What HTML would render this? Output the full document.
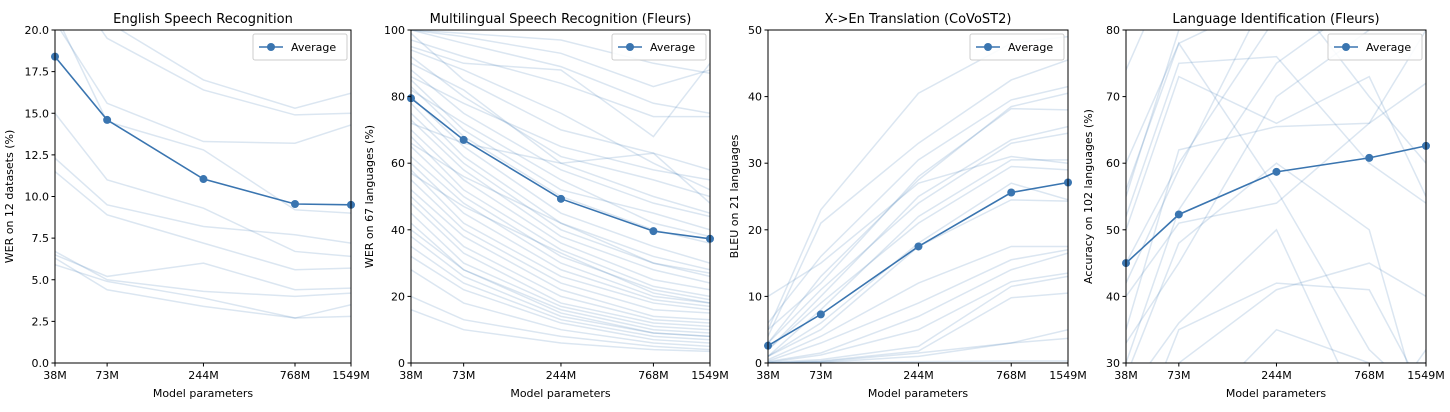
<!DOCTYPE html>
<html><head><meta charset="utf-8">
<style>
html,body{margin:0;padding:0;background:#fff;width:1450px;height:412px;overflow:hidden;}
svg{display:block;font-family:"DejaVu Sans","Liberation Sans",sans-serif;}
</style></head>
<body>
<svg id="chart" width="1450" height="412" viewBox="0 0 1450 412" xmlns="http://www.w3.org/2000/svg"></svg>
<script>
const xCategories = [38, 73, 244, 768, 1549];
const xTickLabels = ["38M","73M","244M","768M","1549M"];
const titles = ["English Speech Recognition","Multilingual Speech Recognition (Fleurs)","X->En Translation (CoVoST2)","Language Identification (Fleurs)"];
const yLabels = ["WER on 12 datasets (%)","WER on 67 languages (%)","BLEU on 21 languages","Accuracy on 102 languages (%)"];
const yTicks1 = [0,2.5,5,7.5,10,12.5,15,17.5,20];
const yTicks2 = [0,20,40,60,80,100];
const yTicks3 = [0,10,20,30,40,50];
const yTicks4 = [30,40,50,60,70,80];
const avg1 = [18.4,14.6,11.05,9.55,9.5];
const avg2 = [79.5,67,49.3,39.6,37.3];
const avg3 = [2.6,7.3,17.5,25.6,27.1];
const avg4 = [45,52.3,58.7,60.8,62.6];
const lines1 = [
[22,20.5,17,15.3,16.2],[24,19.5,16.4,14.9,15.0],[20.5,15.6,13.3,13.2,14.3],
[15,11,9.3,6.7,6.4],[12.3,9.5,8.2,7.7,7.2],[11.5,8.9,7.2,5.6,5.7],
[21,14.5,12.8,9.2,9.0],[6.7,5,4.3,4,4.2],[6.3,4.4,3.4,2.7,3.5],[5.9,4.9,3.9,2.7,2.8],
[6.5,5.2,6.0,4.4,4.5]];
const lines2 = [
[100,98,93,83,88],[100,96,89,78,75],[97,92,84,74,74],[100,99,97,90,87],[95,90,88,68,90],
[99,85,70,63,58],[92,80,62,55,50],[88,75,58,48,44],[85,70,52,45,40],[83,68,50,40,36],
[80,65,45,35,30],[78,62,42,32,28],[75,60,40,30,26],[73,58,38,28,24],[70,55,36,25,22],
[68,52,34,23,20],[65,50,32,22,19],[62,48,30,20,18],[60,45,28,19,17],[58,42,26,18,16],
[55,40,24,16,15],[52,38,22,14,13],[50,35,20,13,12],[48,33,18,12,11],[45,30,17,11,10],
[42,28,16,10,9],[40,28,15,9,8],[38,26,14,9,8],[35,24,13,8,7],[32,22,12,7,6],
[28,18,10,6,5],[20,13,8,5,4],[16,10,6,4,3.5],[90,82,60,50,45],[86,78,65,58,55],
[94,88,75,60,52],[72,66,60,63,48],[82,72,55,42,38],[66,56,42,30,27],[57,47,33,21,18]];
const lines3 = [
[5,23,40.5,48,49],[4,21,33,42.5,45.5],[6,16,30.5,39.5,41.5],[3,13,27.5,38.5,40.5],
[5,12,28,38.2,38],[2,10,25,33.5,35.5],[3,11,24,33,34.5],[1,8,22,30.5,30.5],
[2,9,21,29.5,29],[1,6,18,27,24.5],[1,5,17.5,24.5,24.3],[0.5,4,12,17.5,17.5],
[0.3,3,9,15.5,17],[0.2,1.5,7,14,16.5],[0.1,1.2,5,12.2,13.5],[0.1,0.5,2.5,11.5,13],
[0,0.3,1.8,9.8,10.5],[0,0.2,1.5,3,3.7],[0,0.1,1.0,3,5],[0,0.1,0.2,0.3,0.3],[10,15,27,31,30]];
const lines4 = [
[55,80,90,95,98],[74,92,95,97,98],[60,78,85,90,95],[52,75,76,60,54],[50,73,66,73,55],
[40,51,54,66,72],[35,62,65.5,66,80],[25,36,50,20,32],[20,30,41,45,40],[30,53,75,85,90],
[45,60,82,88,96],[28,48,60,50,20],[10,20,35,30,30],[56,78,56,32,24],[15,35,42,41,25],
[42,59,88,70,60],[5,25,30,28,27],[33,45,70,80,100]];
const panels = [
 {x0:55,x1:351,ymin:0,ymax:20,ticks:yTicks1,fmt:v=>v.toFixed(1),lines:lines1,avg:avg1},
 {x0:411,x1:710,ymin:0,ymax:100,ticks:yTicks2,fmt:v=>String(v),lines:lines2,avg:avg2},
 {x0:768,x1:1068,ymin:0,ymax:50,ticks:yTicks3,fmt:v=>String(v),lines:lines3,avg:avg3},
 {x0:1126,x1:1426,ymin:30,ymax:80,ticks:yTicks4,fmt:v=>String(v),lines:lines4,avg:avg4}];
const Y0=30,Y1=363,C="#3a75b0";
const NS="http://www.w3.org/2000/svg";
const svg=document.getElementById('chart');
function mk(tag,attrs,parent){const e=document.createElementNS(NS,tag);for(const k in attrs)e.setAttribute(k,attrs[k]);(parent||svg).appendChild(e);return e;}
const defs=mk('defs',{});
panels.forEach((p,i)=>{
  const lx0=Math.log(xCategories[0]),lx1=Math.log(xCategories[xCategories.length-1]);
  const xs=v=>p.x0+(Math.log(v)-lx0)/(lx1-lx0)*(p.x1-p.x0);
  const ys=v=>Y1-(v-p.ymin)/(p.ymax-p.ymin)*(Y1-Y0);
  const g=mk('g',{});
  
  
  const cp=mk('clipPath',{id:'cp'+i},defs);
  mk('rect',{x:p.x0,y:Y0,width:p.x1-p.x0,height:Y1-Y0},cp);
  const lg=mk('g',{'clip-path':'url(#cp'+i+')'},g);
  p.lines.forEach((ln,j)=>{
    const pl=mk('polyline',{points:ln.map((v,k)=>xs(xCategories[k])+','+ys(v)).join(' '),fill:'none',stroke:C,'stroke-opacity':0.18,'stroke-width':1.5},lg);
    
    
  });
  const av=mk('polyline',{points:p.avg.map((v,k)=>xs(xCategories[k])+','+ys(v)).join(' '),fill:'none',stroke:C,'stroke-width':1.6},g);
  
  
  p.avg.forEach((v,k)=>{
    const c=mk('circle',{cx:xs(xCategories[k]),cy:ys(v),r:4,fill:C},g);
    
    
  });
  const fr=mk('rect',{x:p.x0,y:Y0,width:p.x1-p.x0,height:Y1-Y0,fill:'none',stroke:'#000','stroke-width':1},g);
  
  
  p.ticks.forEach(t=>{
    const y=ys(t);
    mk('line',{x1:p.x0-3.5,x2:p.x0,y1:y,y2:y,stroke:'#000'},g);
    const tx=mk('text',{x:p.x0-6,y:y+4,'text-anchor':'end','font-size':11,fill:'#000'},g);
    tx.textContent=p.fmt(t);
    
    
  });
  xCategories.forEach((c,k)=>{
    const x=xs(c);
    mk('line',{x1:x,x2:x,y1:Y1,y2:Y1+3.5,stroke:'#000'},g);
    const tx=mk('text',{x:x,y:Y1+16,'text-anchor':'middle','font-size':11,fill:'#000'},g);
    tx.textContent=xTickLabels[k];
    
    
  });
  const xl=mk('text',{x:(p.x0+p.x1)/2,y:Y1+34,'text-anchor':'middle','font-size':11},g);
  xl.textContent='Model parameters';
  
  
  const yx=p.x0-(i===0?42:i===2?30:i===3?34:38);
  const yl=mk('text',{x:0,y:0,transform:'translate('+yx+','+((Y0+Y1)/2)+') rotate(-90)','text-anchor':'middle','font-size':11},g);
  yl.textContent=yLabels[i];
  
  
  const ti=mk('text',{x:(p.x0+p.x1)/2,y:23,'text-anchor':'middle','font-size':13},g);
  ti.textContent=titles[i];
  
  
  const leg=mk('g',{},g);
  
  
  const lw=94,lx=p.x1-lw-4;
  mk('rect',{x:lx,y:34,width:lw,height:26,rx:2,fill:'#fff','fill-opacity':0.85,stroke:'#ccc'},leg);
  mk('line',{x1:lx+6,x2:lx+30,y1:47,y2:47,stroke:C,'stroke-width':1.6},leg);
  mk('circle',{cx:lx+18,cy:47,r:4,fill:C},leg);
  const lt=mk('text',{x:lx+38,y:51,'font-size':11},leg);
  lt.textContent='Average';
  
  
});
</script>
</body></html>
